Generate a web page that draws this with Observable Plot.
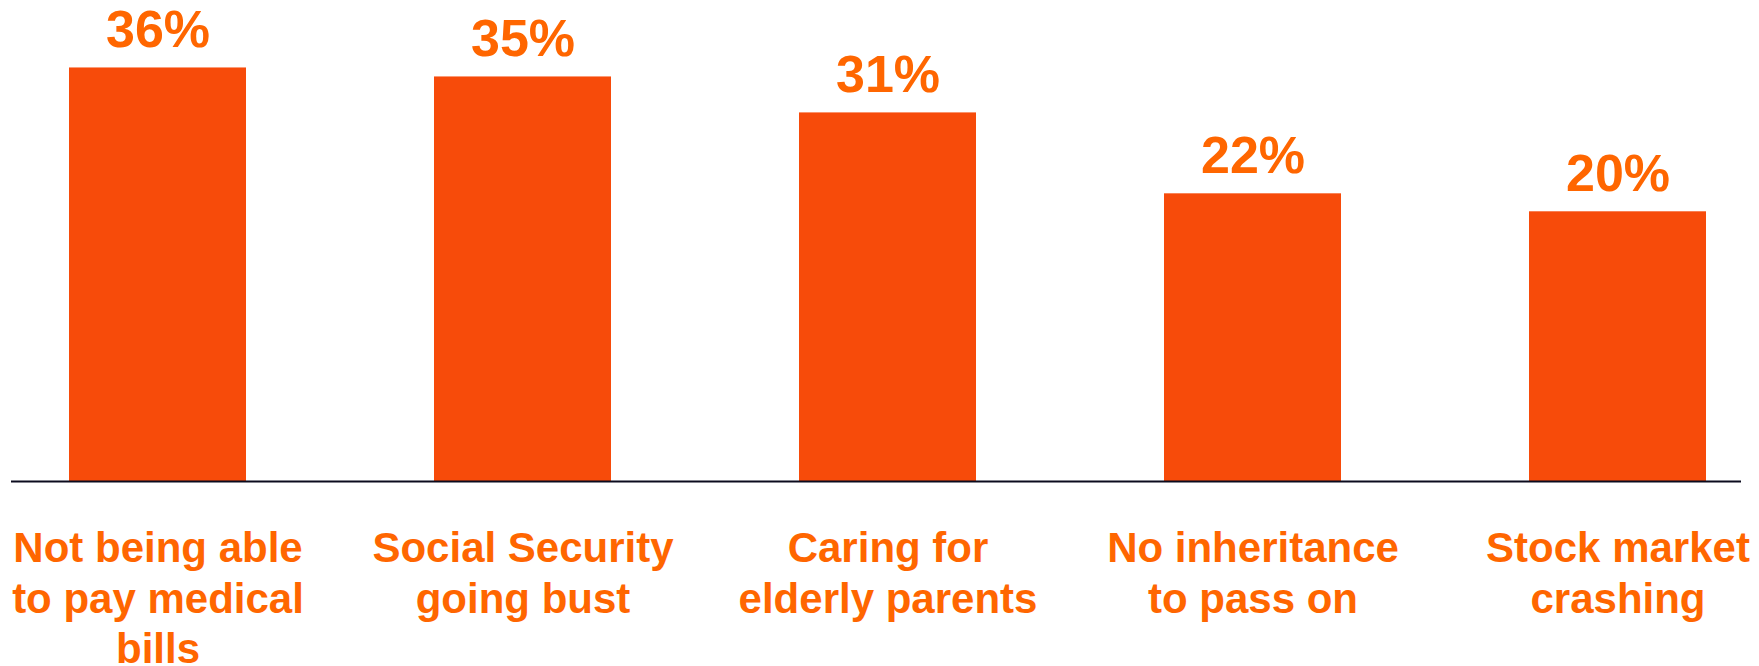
<!DOCTYPE html>
<html>
<head>
<meta charset="utf-8">
<script src="https://cdn.jsdelivr.net/npm/d3@7"></script>
<script src="https://cdn.jsdelivr.net/npm/@observablehq/plot@0.6"></script>
<style>
  html, body { margin: 0; padding: 0; background: #ffffff; }
  #chart svg { display: block; }
</style>
</head>
<body>
<div id="chart"></div>
<script>
const categories = [
  "Not being able\nto pay medical\nbills",
  "Social Security\ngoing bust",
  "Caring for\nelderly parents",
  "No inheritance\nto pass on",
  "Stock market\ncrashing"
];
const values = [36, 35, 31, 22, 20];
const valueLabels = ["36%", "35%", "31%", "22%", "20%"];

// Baseline of the (non-zero-based) value axis as drawn in the original
const axisMin = -10;
const axisMax = 40;

const data = categories.map((c, i) => ({cat: c, value: values[i], label: valueLabels[i]}));

const barColor = "#F74B0A";
const textColor = "#FF6600";
const font = "'Liberation Sans', Arial, Helvetica, sans-serif";

const chart = Plot.plot({
  width: 1759,
  height: 666,
  marginLeft: 32.5,
  marginRight: 16,
  marginTop: 31.5,
  marginBottom: 185,
  style: {fontFamily: font, background: "#ffffff"},
  x: {domain: categories, paddingInner: 0.515, paddingOuter: 0.1, label: null},
  y: {domain: [axisMin, axisMax], axis: null},
  marks: [
    Plot.barY(data, {x: "cat", y1: axisMin, y2: "value", fill: barColor}),
    Plot.ruleY([axisMin], {stroke: "#0b0b1e", strokeWidth: 2, insetLeft: -21.5, insetRight: 2}),
    Plot.text(data, {
      x: "cat", y: "value", text: "label",
      lineAnchor: "bottom", dy: -21,
      fill: textColor, fontSize: 52, fontWeight: "bold", fontFamily: font
    }),
    Plot.axisX({
      tickSize: 0, tickPadding: 45, label: null,
      fontSize: 42, fontWeight: "bold", fill: textColor, lineHeight: 1.2,
      fontFamily: font
    })
  ]
});

document.getElementById("chart").appendChild(chart);
</script>
</body>
</html>
